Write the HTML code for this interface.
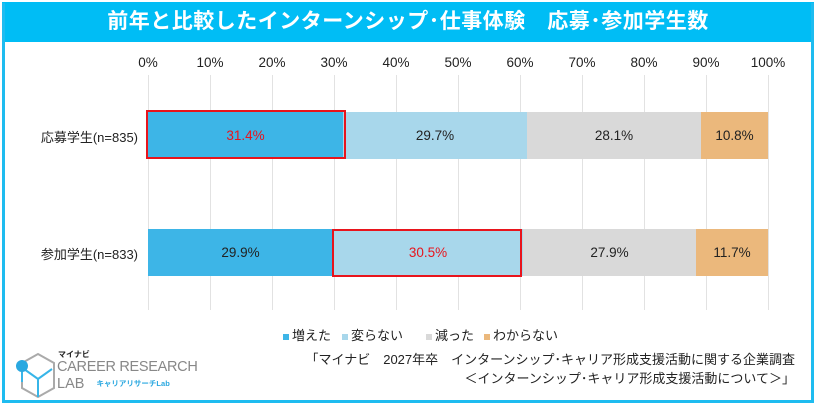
<!DOCTYPE html><html><head><meta charset="utf-8"><style>
body{margin:0;width:815px;height:411px;background:#fff;position:relative;overflow:hidden;font-family:"Liberation Sans","Noto Sans CJK JP",sans-serif;}
.a{position:absolute}
.frame{left:2px;top:3px;width:806px;height:397px;border:3px solid #1ebcf0;border-top:0;}
.title{left:2px;top:2px;width:812px;height:40px;background:#00bdf5;color:#fff;font-size:21px;font-weight:bold;text-align:center;line-height:40px;letter-spacing:0.5px}
.tick{top:55px;font-size:13.5px;color:#222;width:50px;margin-left:-25px;text-align:center}
.grid{top:75px;height:235px;width:1px;background:#e2e2e2}
.seg{height:47px;line-height:47px;text-align:center;font-size:13.5px;color:#222}
.lab{font-size:13px;color:#222;left:15px;width:123px;text-align:right}
.leg{top:325px;font-size:13px;color:#222}
.sq{display:inline-block;width:6px;height:6px;margin-right:3px;vertical-align:middle}
</style></head><body>
<div class="a title">前年と比較したインターンシップ･仕事体験　応募･参加学生数</div>
<div class="a frame"></div>
<div class="a tick" style="left:148px">0%</div><div class="a tick" style="left:210px">10%</div><div class="a tick" style="left:272px">20%</div><div class="a tick" style="left:334px">30%</div><div class="a tick" style="left:396px">40%</div><div class="a tick" style="left:458px">50%</div><div class="a tick" style="left:520px">60%</div><div class="a tick" style="left:582px">70%</div><div class="a tick" style="left:644px">80%</div><div class="a tick" style="left:706px">90%</div><div class="a tick" style="left:768px">100%</div>
<div class="a grid" style="left:148px"></div><div class="a grid" style="left:210px"></div><div class="a grid" style="left:272px"></div><div class="a grid" style="left:334px"></div><div class="a grid" style="left:396px"></div><div class="a grid" style="left:458px"></div><div class="a grid" style="left:520px"></div><div class="a grid" style="left:582px"></div><div class="a grid" style="left:644px"></div><div class="a grid" style="left:706px"></div><div class="a grid" style="left:768px"></div>
<div class="a lab" style="top:127px">応募学生(n=835)</div>
<div class="a lab" style="top:244px">参加学生(n=833)</div>
<div class="a seg" style="top:112px;left:148px;width:195px;background:#3db5e7;color:#e8141c">31.4%</div>
<div class="a seg" style="top:112px;left:343px;width:184px;background:#a8d7eb">29.7%</div>
<div class="a seg" style="top:112px;left:527px;width:174px;background:#d9d9d9">28.1%</div>
<div class="a seg" style="top:112px;left:701px;width:67px;background:#ebb87c">10.8%</div>
<div class="a seg" style="top:229px;left:148px;width:185px;background:#3db5e7">29.9%</div>
<div class="a seg" style="top:229px;left:333px;width:190px;background:#a8d7eb;color:#e8141c">30.5%</div>
<div class="a seg" style="top:229px;left:523px;width:173px;background:#d9d9d9">27.9%</div>
<div class="a seg" style="top:229px;left:696px;width:72px;background:#ebb87c">11.7%</div>
<div class="a" style="left:146px;top:110px;width:196px;height:45px;border:2px solid #e8141c"></div>
<div class="a" style="left:332px;top:229px;width:186px;height:44px;border:2px solid #e8141c"></div>
<div class="a leg" style="left:283px"><span class="sq" style="background:#3db5e7"></span>増えた</div>
<div class="a leg" style="left:342px"><span class="sq" style="background:#a8d7eb"></span>変らない</div>
<div class="a leg" style="left:426px"><span class="sq" style="background:#d9d9d9"></span>減った</div>
<div class="a leg" style="left:484px"><span class="sq" style="background:#ebb87c"></span>わからない</div>
<div class="a" style="right:20px;top:350px;font-size:13px;color:#222;text-align:right;line-height:19px">「マイナビ　2027年卒　インターンシップ･キャリア形成支援活動に関する企業調査<br>＜インターンシップ･キャリア形成支援活動について＞」</div>
<svg class="a" style="left:10px;top:352px" width="45" height="48"><polygon points="28,2 44,11 44,36 28,45 12,36 12,11" fill="none" stroke="#aaa" stroke-width="2"/><path d="M14,17 L28,27 L42,17 M28,27 L28,45" fill="none" stroke="#37b5e8" stroke-width="2"/><circle cx="12" cy="14" r="6" fill="#2aa8e0"/><path d="M12,20 L12,30" stroke="#37b5e8" stroke-width="2"/></svg>
<div class="a" style="left:58px;top:349px;font-size:8px;font-weight:bold;color:#222">マイナビ</div>
<div class="a" style="left:57px;top:359px;font-size:14.5px;color:#888;letter-spacing:-0.3px">CAREER RESEARCH</div>
<div class="a" style="left:57px;top:376px;font-size:14.5px;color:#888">LAB <span style="font-size:7.5px;color:#2aa8e0;font-weight:bold;margin-left:8px;vertical-align:2px">キャリアリサーチLab</span></div>
</body></html>
